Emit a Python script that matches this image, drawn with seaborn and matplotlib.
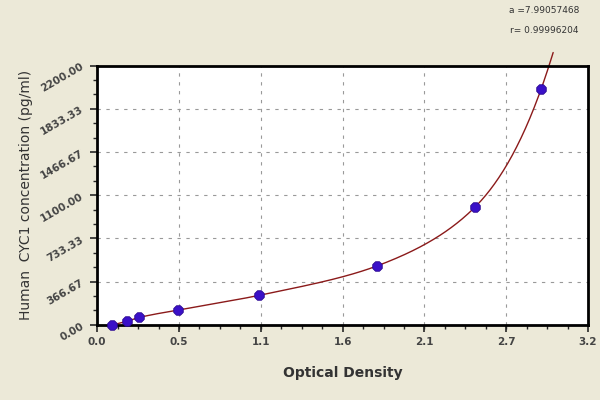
import numpy as np
import matplotlib
matplotlib.use("Agg")
import matplotlib.pyplot as plt
import seaborn as sns

od = [0.098, 0.196, 0.274, 0.528, 1.056, 1.825, 2.464, 2.894]
conc = [0, 31.25, 62.5, 125, 250, 500, 1000, 2000]
xticks = [0.0, 0.533, 1.067, 1.6, 2.133, 2.667, 3.2]
xlabels = ["0.0", "0.5", "1.1", "1.6", "2.1", "2.7", "3.2"]
yticks = [0, 366.67, 733.33, 1100, 1466.67, 1833.33, 2200]
ylabels = ["0.00", "366.67", "733.33", "1100.00", "1466.67", "1833.33", "2200.00"]


def pchip(x, y, xs):
    x = np.asarray(x, float); y = np.asarray(y, float)
    h = np.diff(x); d = np.diff(y) / h
    m = np.zeros_like(y)
    for k in range(1, len(x) - 1):
        if d[k - 1] * d[k] > 0:
            w1 = 2 * h[k] + h[k - 1]; w2 = h[k] + 2 * h[k - 1]
            m[k] = (w1 + w2) / (w1 / d[k - 1] + w2 / d[k])
    m[0] = d[0]
    m[-1] = ((2 * h[-1] + h[-2]) * d[-1] - h[-1] * d[-2]) / (h[-1] + h[-2])
    idx = np.clip(np.searchsorted(x, xs) - 1, 0, len(x) - 2)
    t = (xs - x[idx]) / h[idx]
    hh = h[idx]
    return ((2*t**3 - 3*t**2 + 1) * y[idx] + (t**3 - 2*t**2 + t) * hh * m[idx]
            + (-2*t**3 + 3*t**2) * y[idx + 1] + (t**3 - t**2) * hh * m[idx + 1])


sns.set_style("white")
bg = "#ECE9D8"
fig = plt.figure(figsize=(6, 4), dpi=100, facecolor=bg)
ax = fig.add_axes([0.162, 0.188, 0.818, 0.648])

off = 60
xs = np.linspace(od[0], 2.98, 400)
ys = np.exp(pchip(od, np.log(np.array(conc) + off), xs)) - off
m = ys <= 2330
ax.plot(xs[m], ys[m], color="#8B1A1A", lw=1, clip_on=False, zorder=2)
sns.scatterplot(x=od, y=conc, ax=ax, color="#3A10C8", s=55, marker="8",
                edgecolor="#2A0890", zorder=3, clip_on=False)

ax.set_xlim(0, 3.2)
ax.set_ylim(0, 2200)
ax.set_xticks(xticks)
ax.set_xticklabels(xlabels, fontsize=7.5, fontweight="bold", color="#444")
ax.set_yticks(yticks)
ax.set_yticklabels(ylabels, fontsize=7.5, fontweight="bold", color="#444", rotation=30)
ax.set_xticks(np.arange(0, 3.2001, 3.2 / 24), minor=True)
ax.set_yticks(np.arange(0, 2200.01, 2200 / 18), minor=True)
ax.tick_params(which="major", length=5, direction="out", width=1.2)
ax.tick_params(which="minor", length=3, direction="out", width=1)
ax.tick_params(bottom=True, left=True, which="both")
ax.grid(True, which="major", ls=(0, (3, 5)), color="#999", lw=0.8)
for s in ax.spines.values():
    s.set_linewidth(2)
    s.set_color("black")
ax.set_xlabel("Optical Density", fontsize=10, fontweight="bold", color="#333", labelpad=14)
ax.set_ylabel("Human  CYC1 concentration (pg/ml)", fontsize=10, color="#333", labelpad=4)
fig.text(0.965, 0.985, "a =7.99057468", ha="right", va="top", fontsize=6.5, color="#333")
fig.text(0.965, 0.935, "r= 0.99996204", ha="right", va="top", fontsize=6.5, color="#333")
fig.savefig("out.png", dpi=100, facecolor=bg)
